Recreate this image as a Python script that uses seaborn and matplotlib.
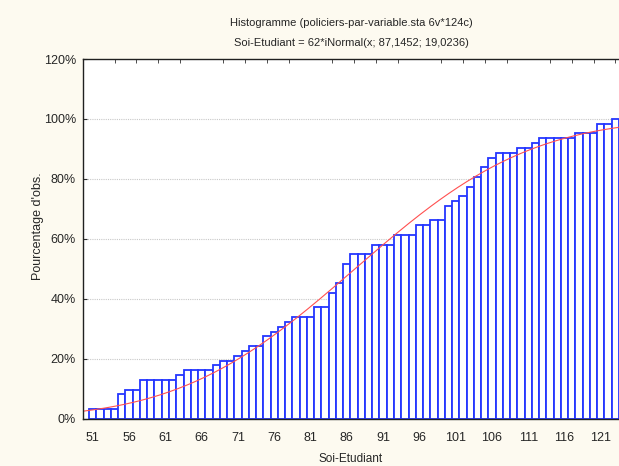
import math
import numpy as np
import pandas as pd
import matplotlib
matplotlib.use("Agg")
import matplotlib.pyplot as plt
import seaborn as sns

# valeurs de Soi-Etudiant (une barre par valeur) et effectifs cumulés
valeurs = list(range(51, 124))
cumul = [2, 2, 2, 2, 5, 6, 6, 8, 8, 8, 8, 8, 9, 10, 10, 10, 10, 11, 12, 12,
         13, 14, 15, 15, 17, 18, 19, 20, 21, 21, 21, 23, 23, 26, 28, 32, 34, 34, 34, 36,
         36, 36, 38, 38, 38, 40, 40, 41, 41, 44, 45, 46, 48, 50, 52, 54, 55, 55, 55, 56,
         56, 57, 58, 58, 58, 58, 58, 59, 59, 59, 61, 61, 62]
n_obs = 62
moyenne = 87.1452
ecart_type = 19.0236
etiquettes_x = list(range(51, 122, 5))
graduations_y = [0, 20, 40, 60, 80, 100, 120]

titre1 = "Histogramme (policiers-par-variable.sta 6v*124c)"
titre2 = "Soi-Etudiant = 62*iNormal(x; 87,1452; 19,0236)"

sns.set_style("white")
plt.rcParams["font.family"] = ["Liberation Sans", "DejaVu Sans"]

df = pd.DataFrame({"x": valeurs, "pct": [c / n_obs * 100 for c in cumul]})

fig = plt.figure(figsize=(6.19, 4.66), dpi=100, facecolor="#fdfaf0")
ax = fig.add_axes([83 / 619, 1 - 418.5 / 466, 1 - 83 / 619, (418.5 - 59) / 466])
ax.set_facecolor("white")

sns.barplot(data=df, x="x", y="pct", native_scale=True, width=1, errorbar=None,
            color="white", saturation=1, edgecolor="#2436ff", linewidth=1.3, ax=ax)

# courbe normale cumulée
xs = np.linspace(49.65, 123.5, 300)
cdf = [50 * (1 + math.erf((v - moyenne) / (ecart_type * math.sqrt(2)))) for v in xs]
sns.lineplot(x=xs, y=cdf, color="#ff5050", linewidth=0.8, ax=ax)

ax.set_xlim(49.65, 123.5)
ax.set_ylim(0, 120)
ax.set_xticks(etiquettes_x)
ax.set_xticklabels([str(v) for v in etiquettes_x], fontsize=9)
ax.set_xticks(np.arange(51, 124, 3), minor=True)
ax.tick_params(axis="x", which="major", length=0, pad=10)
ax.tick_params(axis="x", which="minor", direction="in", length=3, top=True, bottom=True,
               color="#303030")
ax.set_yticks(graduations_y)
ax.set_yticklabels([f"{v}%" for v in graduations_y], fontsize=9)
ax.tick_params(axis="y", direction="in", length=3, left=True, color="#303030", pad=5)

for v in graduations_y[1:-1]:
    ax.axhline(v, color="#c8c8c8", linestyle=(0, (1, 1)), linewidth=0.8, zorder=0)

for side in ["left", "bottom", "top"]:
    ax.spines[side].set_color("#202020")
    ax.spines[side].set_linewidth(1.0)
ax.spines["right"].set_visible(False)

ax.set_xlabel("Soi-Etudiant", fontsize=8.5, labelpad=6)
ax.set_ylabel("Pourcentage d'obs.", fontsize=9)
ax.yaxis.set_label_coords(-0.073, 0.535)

fig.text(351 / 619, 1 - 23 / 466, titre1, ha="center", va="center", fontsize=8)
fig.text(351 / 619, 1 - 43 / 466, titre2, ha="center", va="center", fontsize=8)

fig.savefig("out.png", dpi=100, facecolor=fig.get_facecolor())
